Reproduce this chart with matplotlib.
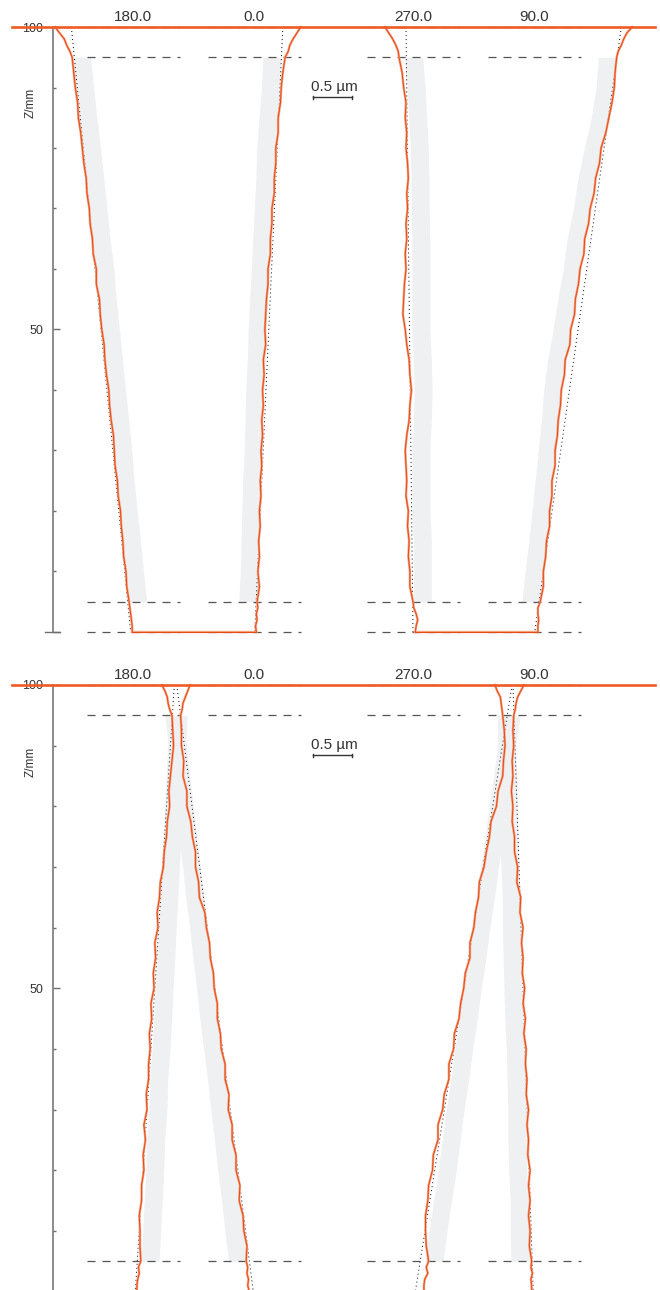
import numpy as np
import matplotlib.pyplot as plt
from matplotlib.ticker import MultipleLocator

plt.rcParams['font.family'] = ['Liberation Sans', 'DejaVu Sans']
plt.rcParams['lines.scale_dashes'] = False

# generatrix angles, drawn as two pairs (180/0 and 270/90)
ANGLES = ['180.0', '0.0', '270.0', '90.0']
SIDE = [-1, 1, -1, 1]          # outward direction of each generatrix on the sheet
GEN_X = [1.705, 3.256, 5.295, 6.846]   # nominal position of each generatrix, um on sheet

# measuring heights (mm)
Z_PROF = [100, 99, 98, 97, 96, 95, 92.5, 90, 87.5, 85, 82.5, 80, 77.5, 75, 72.5, 70,
          67.5, 65, 62.5, 60, 57.5, 55, 52.5, 50, 47.5, 45, 42.5, 40, 37.5, 35, 32.5,
          30, 27.5, 25, 22.5, 20, 17.5, 15, 12.5, 10, 7.5, 5, 4, 3, 2, 1, 0]
Z_BAND = [95, 90, 85, 80, 75, 70, 65, 60, 55, 50, 45, 40, 35, 30, 25, 20, 15, 10, 5]
Z_LIMITS = [100, 95, 5, 0]
SCALE_UM = 0.5

# radial deviation (um, outward positive), part 1
top_180 = [1.00, 0.94, 0.88, 0.85, 0.81, 0.78, 0.76, 0.74, 0.71, 0.70, 0.67, 0.65, 0.63, 0.60,
           0.59, 0.56, 0.55, 0.52, 0.51, 0.47, 0.47, 0.43, 0.42, 0.40, 0.37, 0.36, 0.34, 0.31,
           0.30, 0.28, 0.25, 0.24, 0.23, 0.20, 0.19, 0.16, 0.15, 0.13, 0.12, 0.09, 0.08, 0.05,
           0.04, 0.03, 0.02, 0.01, 0.01]
top_0 = [0.60, 0.55, 0.50, 0.46, 0.44, 0.40, 0.37, 0.35, 0.34, 0.31, 0.31, 0.28, 0.28, 0.26,
         0.26, 0.23, 0.23, 0.21, 0.21, 0.18, 0.18, 0.16, 0.15, 0.14, 0.15, 0.12, 0.13, 0.11,
         0.12, 0.10, 0.11, 0.09, 0.10, 0.08, 0.09, 0.07, 0.08, 0.06, 0.07, 0.05, 0.07, 0.04,
         0.05, 0.03, 0.04, 0.02, 0.03]
top_270 = [0.36, 0.31, 0.26, 0.22, 0.19, 0.18, 0.14, 0.12, 0.09, 0.10, 0.08, 0.09, 0.07, 0.06,
           0.08, 0.07, 0.09, 0.08, 0.10, 0.09, 0.11, 0.12, 0.13, 0.10, 0.08, 0.05, 0.04, 0.02,
           0.04, 0.05, 0.08, 0.10, 0.09, 0.08, 0.09, 0.06, 0.07, 0.05, 0.06, 0.04, 0.04, 0.00,
           -0.01, -0.04, -0.06, -0.04, -0.03]
top_90 = [1.26, 1.19, 1.15, 1.12, 1.08, 1.06, 1.04, 1.03, 1.00, 0.96, 0.92, 0.86, 0.84, 0.79,
          0.77, 0.72, 0.70, 0.65, 0.64, 0.59, 0.57, 0.53, 0.52, 0.47, 0.46, 0.40, 0.39, 0.35,
          0.34, 0.31, 0.30, 0.27, 0.27, 0.23, 0.23, 0.20, 0.20, 0.16, 0.15, 0.12, 0.12, 0.08,
          0.05, 0.05, 0.06, 0.05, 0.05]

# reference band (um), part 1
top_band_180 = [0.66, 0.62, 0.58, 0.53, 0.49, 0.45, 0.41, 0.36, 0.33, 0.29, 0.25, 0.21, 0.17,
                0.13, 0.10, 0.06, 0.02, -0.02, -0.06]
top_band_0 = [0.23, 0.21, 0.18, 0.15, 0.14, 0.12, 0.10, 0.08, 0.06, 0.04, 0.03, 0.01, 0.00,
              -0.01, -0.03, -0.04, -0.05, -0.06, -0.08]
top_band_270 = [-0.01, -0.04, -0.06, -0.08, -0.09, -0.09, -0.10, -0.10, -0.10, -0.10, -0.12,
                -0.13, -0.12, -0.10, -0.10, -0.10, -0.12, -0.12, -0.12]
top_band_90 = [0.94, 0.91, 0.85, 0.76, 0.68, 0.62, 0.54, 0.49, 0.42, 0.36, 0.29, 0.24, 0.21,
               0.17, 0.13, 0.09, 0.05, 0.00, -0.04]

# least squares lines (deviation at z=100, at z=0), part 1
top_fit = [(0.79, 0.03), (0.37, 0.01), (0.09, 0.00), (1.12, 0.01)]

# part 2
bot_180 = [-0.37, -0.41, -0.44, -0.45, -0.47, -0.50, -0.51, -0.52, -0.50, -0.48, -0.46, -0.47,
           -0.44, -0.43, -0.40, -0.39, -0.35, -0.34, -0.31, -0.32, -0.28, -0.29, -0.26, -0.27,
           -0.23, -0.24, -0.21, -0.22, -0.20, -0.20, -0.17, -0.18, -0.14, -0.16, -0.13, -0.14,
           -0.11, -0.11, -0.08, -0.09, -0.09, -0.10, -0.07, -0.08, -0.06, -0.05, -0.05]
bot_0 = [-0.82, -0.85, -0.88, -0.91, -0.92, -0.94, -0.93, -0.93, -0.90, -0.91, -0.86, -0.86,
         -0.81, -0.79, -0.75, -0.75, -0.71, -0.70, -0.63, -0.61, -0.57, -0.56, -0.52, -0.51,
         -0.47, -0.47, -0.43, -0.42, -0.37, -0.37, -0.32, -0.33, -0.28, -0.28, -0.23, -0.23,
         -0.18, -0.19, -0.14, -0.13, -0.09, -0.10, -0.08, -0.09, -0.07, -0.08, -0.06]
bot_270 = [-1.05, -1.08, -1.12, -1.13, -1.14, -1.15, -1.17, -1.18, -1.16, -1.15, -1.09, -1.07,
           -1.00, -0.98, -0.94, -0.91, -0.85, -0.84, -0.80, -0.78, -0.73, -0.73, -0.67, -0.65,
           -0.61, -0.59, -0.53, -0.52, -0.46, -0.46, -0.40, -0.38, -0.32, -0.32, -0.26, -0.25,
           -0.20, -0.19, -0.16, -0.16, -0.17, -0.20, -0.17, -0.19, -0.15, -0.14, -0.14]
bot_90 = [-0.13, -0.17, -0.21, -0.23, -0.24, -0.26, -0.27, -0.26, -0.28, -0.27, -0.29, -0.27,
          -0.28, -0.25, -0.25, -0.21, -0.22, -0.17, -0.18, -0.14, -0.16, -0.14, -0.15, -0.12,
          -0.14, -0.11, -0.13, -0.10, -0.11, -0.09, -0.10, -0.07, -0.09, -0.07, -0.08, -0.05,
          -0.07, -0.05, -0.07, -0.05, -0.06, -0.03, -0.04, -0.02, -0.04, -0.03, -0.03]

bot_band_180 = [-0.58, -0.56, -0.54, -0.52, -0.50, -0.48, -0.46, -0.44, -0.42, -0.40, -0.38,
                -0.36, -0.33, -0.32, -0.29, -0.28, -0.26, -0.24, -0.22]
bot_band_0 = [-1.03, -0.98, -0.94, -0.89, -0.85, -0.80, -0.76, -0.71, -0.67, -0.62, -0.58,
              -0.53, -0.48, -0.44, -0.39, -0.35, -0.30, -0.26, -0.21]
bot_band_270 = [-1.26, -1.20, -1.15, -1.09, -1.04, -0.98, -0.93, -0.87, -0.82, -0.76, -0.71,
                -0.65, -0.60, -0.54, -0.49, -0.44, -0.38, -0.32, -0.27]
bot_band_90 = [-0.36, -0.35, -0.33, -0.33, -0.32, -0.31, -0.29, -0.29, -0.28, -0.27, -0.26,
               -0.24, -0.23, -0.22, -0.22, -0.21, -0.19, -0.19, -0.18]

bot_fit = [(-0.53, -0.03), (-0.99, -0.01), (-1.27, -0.03), (-0.27, -0.01)]

ORANGE = '#e64a16'
ORANGE_LIGHT = '#f4a07e'
BAND = '#eff0f2'
AXIS = '#6e6e6e'
TEXT = '#333333'
BAND_HALF = 0.115


def draw_panel(ax, profiles, bands, fits):
    ax.set_xlim(0, 8.4615)
    ax.set_ylim(0, 100)
    ax.patch.set_visible(False)
    for s in ['top', 'right', 'bottom']:
        ax.spines[s].set_visible(False)
    ax.spines['left'].set_position(('data', 0.68))
    ax.spines['left'].set_color(AXIS)
    ax.spines['left'].set_linewidth(1.1)
    ax.set_xticks([])
    ax.set_yticks([0, 50, 100])
    ax.set_yticklabels(['', '50', '100'])
    ax.yaxis.set_minor_locator(MultipleLocator(10))
    ax.tick_params(axis='y', which='major', direction='in', length=5, width=1,
                   color=AXIS, labelsize=9, labelcolor=TEXT, pad=7)
    ax.tick_params(axis='y', which='minor', direction='in', length=2.5, width=1, color=AXIS)
    ax.set_ylabel('Z/mm', fontsize=8.5, color=TEXT)
    ax.yaxis.set_label_coords(37 / 660, 0.874)
    # end cap of the height axis
    ax.plot([0.577, 0.769], [0, 0], color=AXIS, lw=1, clip_on=False, zorder=2)

    for i in range(4):
        x0 = GEN_X[i]
        s = SIDE[i]
        # reference band
        bx = x0 + s * np.array(bands[i])
        ax.fill_betweenx(Z_BAND, bx - BAND_HALF, bx + BAND_HALF, color=BAND, lw=0, zorder=1)
        # limit lines
        for z in Z_LIMITS:
            ax.plot([x0 - 0.59, x0 + 0.60], [z, z], color='#555555', lw=0.9,
                    dashes=(5.8, 5.0), clip_on=False, zorder=2)
        # fitted line
        ax.plot([x0 + s * fits[i][0], x0 + s * fits[i][1]], [100, 0], color='black',
                lw=0.7, dashes=(0.7, 2.2), clip_on=False, zorder=3)
        # measured profile
        px = x0 + s * np.array(profiles[i])
        ax.plot(px, Z_PROF, color=ORANGE_LIGHT, lw=1.7, clip_on=False, zorder=4)
        ax.plot(px, Z_PROF, color=ORANGE, lw=0.7, clip_on=False, zorder=5)
        ax.annotate(ANGLES[i], (x0, 100), xytext=(0, 4.3), textcoords='offset points',
                    ha='center', va='baseline', fontsize=11, color=TEXT)

    # bottom face between the two generatrices of each pair
    for a, b in [(0, 1), (2, 3)]:
        xa = GEN_X[a] + SIDE[a] * profiles[a][-1]
        xb = GEN_X[b] + SIDE[b] * profiles[b][-1]
        ax.plot([xa, xb], [0, 0], color=ORANGE_LIGHT, lw=1.7, clip_on=False, zorder=4)
        ax.plot([xa, xb], [0, 0], color=ORANGE, lw=0.7, clip_on=False, zorder=5)

    # top face
    ax.plot([0.154, 8.40], [100, 100], color='#f05a24', lw=1.9, clip_on=False, zorder=6)

    # scale bar
    xc, zb = 4.263, 88.4
    ax.plot([xc - SCALE_UM / 2, xc + SCALE_UM / 2], [zb, zb], color=TEXT, lw=1.0, zorder=6)
    for xe in [xc - SCALE_UM / 2, xc + SCALE_UM / 2]:
        ax.plot([xe, xe], [zb - 0.25, zb + 0.25], color=TEXT, lw=1.0, zorder=6)
    ax.annotate('%.1f µm' % SCALE_UM, (xc, zb), xytext=(1, 4.3), textcoords='offset points',
                ha='center', va='baseline', fontsize=11, color=TEXT)


fig = plt.figure(figsize=(6.6, 12.9), dpi=100)
ax1 = fig.add_axes([0, 1 - 632 / 1290, 1, 605 / 1290])
ax2 = fig.add_axes([0, 1 - 1291.5 / 1290, 1, 606.5 / 1290])

draw_panel(ax1, [top_180, top_0, top_270, top_90],
           [top_band_180, top_band_0, top_band_270, top_band_90], top_fit)
draw_panel(ax2, [bot_180, bot_0, bot_270, bot_90],
           [bot_band_180, bot_band_0, bot_band_270, bot_band_90], bot_fit)

fig.savefig('out.png', dpi=100)
